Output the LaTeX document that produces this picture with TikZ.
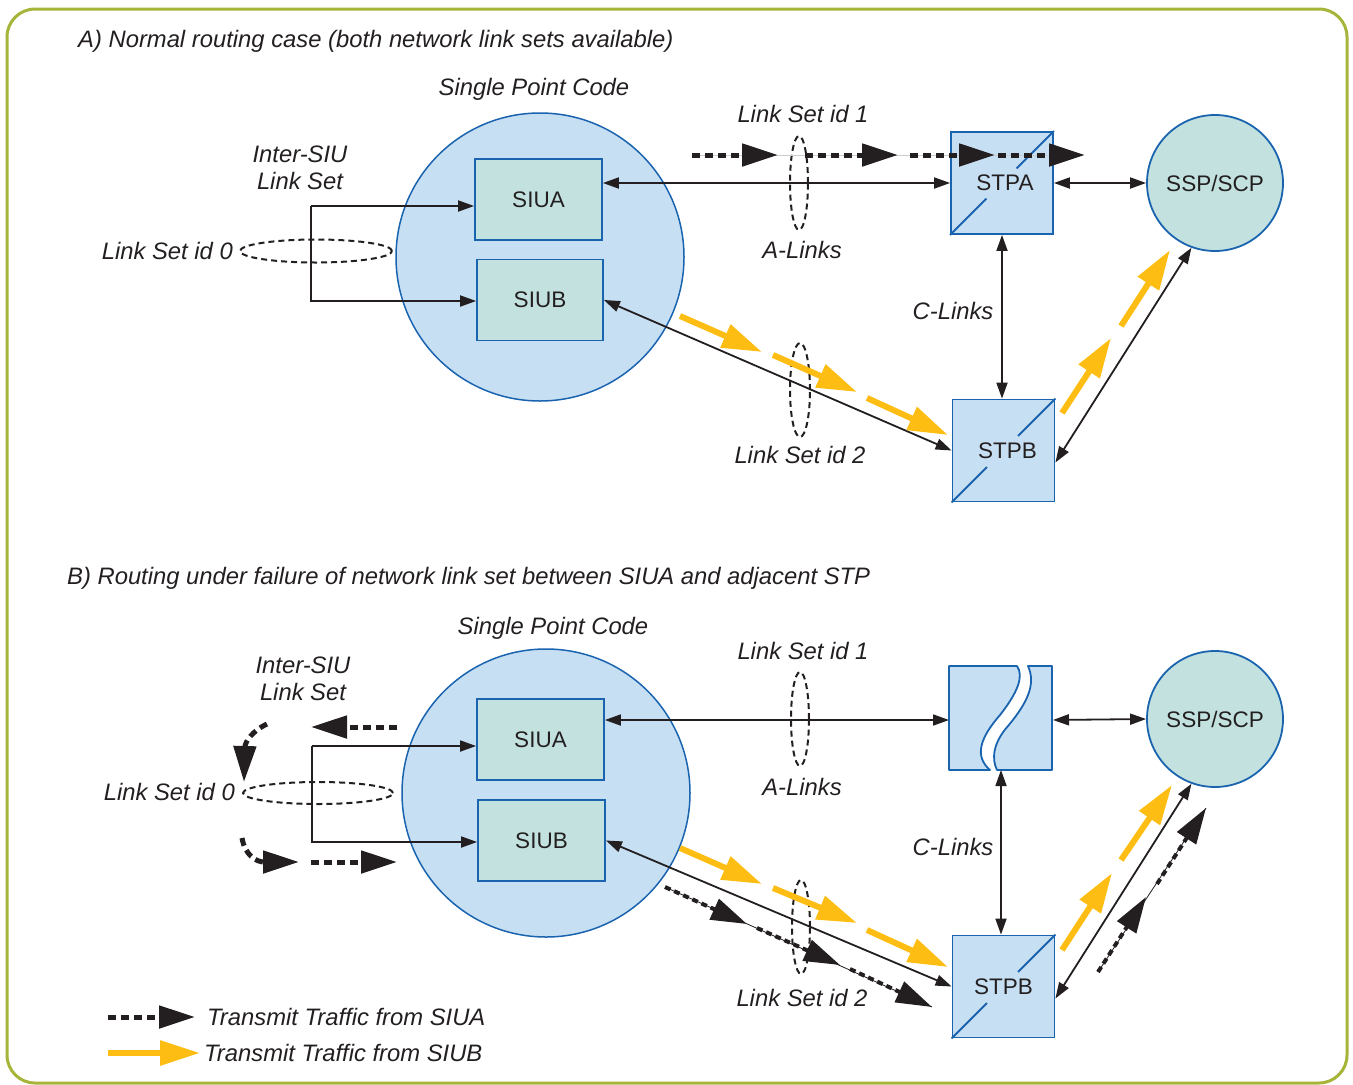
\documentclass[tikz,border=0pt]{standalone}
\usepackage{fontspec}
\setmainfont{Liberation Sans}
\usetikzlibrary{arrows.meta,calc}
\definecolor{lblue}{HTML}{C7DFF3}
\definecolor{lteal}{HTML}{C3E2DF}
\definecolor{sblue}{HTML}{1A64AF}
\definecolor{tyellow}{HTML}{FDBD13}
\definecolor{bgreen}{HTML}{A6B53A}
\definecolor{ink}{HTML}{231F20}
\begin{document}
\begin{tikzpicture}[x=1pt,y=-1pt,
  font=\fontsize{22.5}{26}\selectfont,
  lbl/.style={font=\fontsize{23.8}{26.5}\selectfont\itshape, text=ink, inner sep=0pt, align=center},
  unit/.style={draw=sblue, line width=1.8pt, fill=lteal, minimum width=127pt, minimum height=81pt, inner sep=0pt, text=ink},
  stp/.style={draw=sblue, line width=1.8pt, fill=lblue, minimum width=102pt, minimum height=102pt, inner sep=0pt, text=ink},
  spc/.style={circle, draw=sblue, line width=1.5pt, fill=lblue, minimum size=288pt, inner sep=0pt},
  ssp/.style={circle, draw=sblue, line width=1.8pt, fill=lteal, minimum size=136pt, inner sep=0pt, text=ink},
  conn/.style={draw=ink, line width=1.8pt},
  biarrow/.style={conn, {Triangle[length=16pt,width=11pt]}-{Triangle[length=16pt,width=11pt]}},
  onearrow/.style={conn, -{Triangle[length=16pt,width=11pt]}},
  lset/.style={draw=ink, line width=2pt, dash pattern=on 6pt off 4pt},
  ytraf/.style={draw=tyellow, line width=6pt, -{Triangle[length=40pt,width=24pt]}},
  btraf/.style={draw=ink, line width=5pt, dash pattern=on 8pt off 5pt, -{Triangle[length=36pt,width=22pt]}},
  btrafs/.style={draw=ink, line width=4pt, dash pattern=on 6pt off 4pt, -{Triangle[length=36pt,width=22pt]}},
  thinl/.style={draw=ink, line width=0.8pt},
  diag/.style={draw=sblue, line width=1.8pt},
]
\useasboundingbox (0,0) rectangle (1353,1085);
\draw[bgreen, line width=3pt, rounded corners=28pt] (7,9) rectangle (1347,1083);

% ================= Panel A =================
\node[lbl, anchor=west] (titleA) at (78,41) {A) Normal routing case (both network link sets available)};
\node[lbl] (spclA) at (534,89) {Single Point Code};
\node[spc] (spcA) at (540,257) {};
\node[unit] (siuaA) at (538.5,199.5) {SIUA};
\node[unit, minimum width=126pt] (siubA) at (540,300) {SIUB};
\node[stp] (stpaA) at (1002,183) {\hspace*{6pt}STPA};
\node[stp] (stpbA) at (1003.5,450.5) {\hspace*{8pt}STPB};
\node[ssp] (sspA) at (1215,183) {SSP/SCP};

\draw[diag] (stpaA.south west) -- ($(stpaA.south west)!0.35!(stpaA.north east)$);
\draw[diag] ($(stpaA.south west)!0.64!(stpaA.north east)$) -- (stpaA.north east);
\draw[diag] (stpbA.south west) -- ($(stpbA.south west)!0.34!(stpbA.north east)$);
\draw[diag] ($(stpbA.south west)!0.64!(stpbA.north east)$) -- (stpbA.north east);

\node[lbl] (interA) at (300,168) {Inter-SIU\\Link Set};
\node[lbl, anchor=east] (ls0A) at (233,251) {Link Set id 0};
\node[lbl] (ls1A) at (803,114) {Link Set id 1};
\node[lbl] (alA) at (802,250) {A-Links};
\node[lbl] (clA) at (953,311) {C-Links};
\node[lbl] (ls2A) at (800,455) {Link Set id 2};

\coordinate (brA1) at (311,206);
\coordinate (brA2) at (311,301);
\draw[onearrow] (brA1) -- (brA1 -| siuaA.west);
\draw[onearrow] (brA1) -- (brA2) -- (brA2 -| siubA.west);
\draw[lset] (316,251) ellipse [x radius=76pt, y radius=11.5pt];

\draw[biarrow] (stpaA.west -| siuaA.east) -- (stpaA.west);
\draw[biarrow] (stpaA.east) -- (sspA.west);
\draw[biarrow] (stpaA.south) -- (stpaA.south |- stpbA.north);
\draw[biarrow] (siubA.east) -- (stpbA.west);
\draw[biarrow] ($(stpbA.east)+(0,12)$) -- (sspA.250);

\draw[lset] (799,183) ellipse [x radius=9pt, y radius=47pt];
\draw[lset] (800,390) ellipse [x radius=10pt, y radius=47pt];

% black traffic A
\draw[gray!40, line width=1pt] (692,155) -- (1060,155);
\draw[btraf] (692,155) -- (778,155);
\draw[btraf] (805,155) -- (898,155);
\draw[btraf] (910,155) -- (995,155);
\draw[btraf] (998,155) -- (1085,155);

% yellow traffic A
\draw[ytraf] (680,316) -- (762,352);
\draw[ytraf] (773,355) -- (857,392);
\draw[ytraf] (867,398) -- (948,435);
\draw[ytraf] (1062,413) -- (1111,338);
\draw[ytraf] (1121,326) -- (1170,250);

% ================= Panel B =================
\node[lbl, anchor=west] (titleB) at (67,578) {B) Routing under failure of network link set between SIUA and adjacent STP};
\node[lbl] (spclB) at (553,628) {Single Point Code};
\node[spc] (spcB) at (546,793) {};
\node[unit] (siuaB) at (540.5,739.5) {SIUA};
\node[unit] (siubB) at (541.5,840.5) {SIUB};
\node[minimum width=103pt, minimum height=104pt, inner sep=0pt] (stpaB) at (1000.5,718) {};
\node[stp] (stpbB) at (1003.5,986.5) {STPB};
\node[ssp] (sspB) at (1215,719) {SSP/SCP};

% broken STP box
\draw[diag, fill=lblue, line join=round] (949,666) -- (1017,666)
  .. controls (1024,676) and (1018,692) .. (1000,715)
  .. controls (980,738) and (974,756) .. (990,770) -- (949,770) -- cycle;
\draw[diag, fill=lblue, line join=round] (1028,666) -- (1052,666) -- (1052,770) -- (997,770)
  .. controls (992,760) and (992,744) .. (1008,726)
  .. controls (1028,702) and (1036,684) .. (1028,666) -- cycle;

\draw[diag] (stpbB.south west) -- ($(stpbB.south west)!0.34!(stpbB.north east)$);
\draw[diag] ($(stpbB.south west)!0.64!(stpbB.north east)$) -- (stpbB.north east);

\node[lbl] (interB) at (303,679) {Inter-SIU\\Link Set};
\node[lbl, anchor=east] (ls0B) at (235,792) {Link Set id 0};
\node[lbl] (ls1B) at (803,651) {Link Set id 1};
\node[lbl] (alB) at (802,787) {A-Links};
\node[lbl] (clB) at (953,847) {C-Links};
\node[lbl] (ls2B) at (802,998) {Link Set id 2};

\coordinate (brB1) at (312,746);
\coordinate (brB2) at (312,842);
\draw[onearrow] (brB1) -- (brB1 -| siuaB.west);
\draw[onearrow] (brB1) -- (brB2) -- (brB2 -| siubB.west);
\draw[lset] (318,793) ellipse [x radius=75pt, y radius=11pt];

\coordinate (brkW) at (949,720);
\coordinate (brkE) at (1053,720);
\coordinate (brkS) at (1001,770);
\draw[biarrow] (brkW -| siuaB.east) -- (brkW);
\draw[biarrow] (brkE) -- (sspB.west);
\draw[biarrow] (brkS) -- (brkS |- stpbB.north);
\draw[biarrow] (siubB.east) -- (stpbB.west);
\draw[biarrow] ($(stpbB.east)+(0,12)$) -- (sspB.250);

\draw[lset] (800,719) ellipse [x radius=9pt, y radius=47pt];
\draw[lset] (801,927) ellipse [x radius=9pt, y radius=47pt];

% black traffic B, left loop
\draw[btraf] (397,727) -- (311,727);
\draw[btraf] (267,724) .. controls (252,731) and (245,742) .. (244,782);
\draw[btraf] (242,838) .. controls (245,855) and (256,862) .. (299,862);
\draw[btraf] (311,862) -- (397,862);

% black traffic B, diagonals
\draw[thinl] (665,887) -- (932,1007);
\draw[btrafs] (665,887) -- (747,924);
\draw[btrafs] (757,928) -- (840,965);
\draw[btrafs] (850,969) -- (932,1007);
\draw[thinl] (1098,972) -- (1206,808);
\draw[btrafs] (1098,972) -- (1146,897);
\draw[btrafs] (1157,884) -- (1206,808);

% yellow traffic B
\draw[ytraf] (680,848) -- (762,884);
\draw[ytraf] (773,888) -- (857,923);
\draw[ytraf] (867,930) -- (948,967);
\draw[ytraf] (1062,950) -- (1112,873);
\draw[ytraf] (1121,860) -- (1172,785);

% ================= Legend =================
\draw[btraf] (108,1017) -- (195,1017);
\draw[ytraf] (108,1053) -- (200,1053);
\node[lbl, anchor=west] (legA) at (207,1017) {Transmit Traffic from SIUA};
\node[lbl, anchor=west] (legB) at (204,1053) {Transmit Traffic from SIUB};
\end{tikzpicture}
\end{document}
